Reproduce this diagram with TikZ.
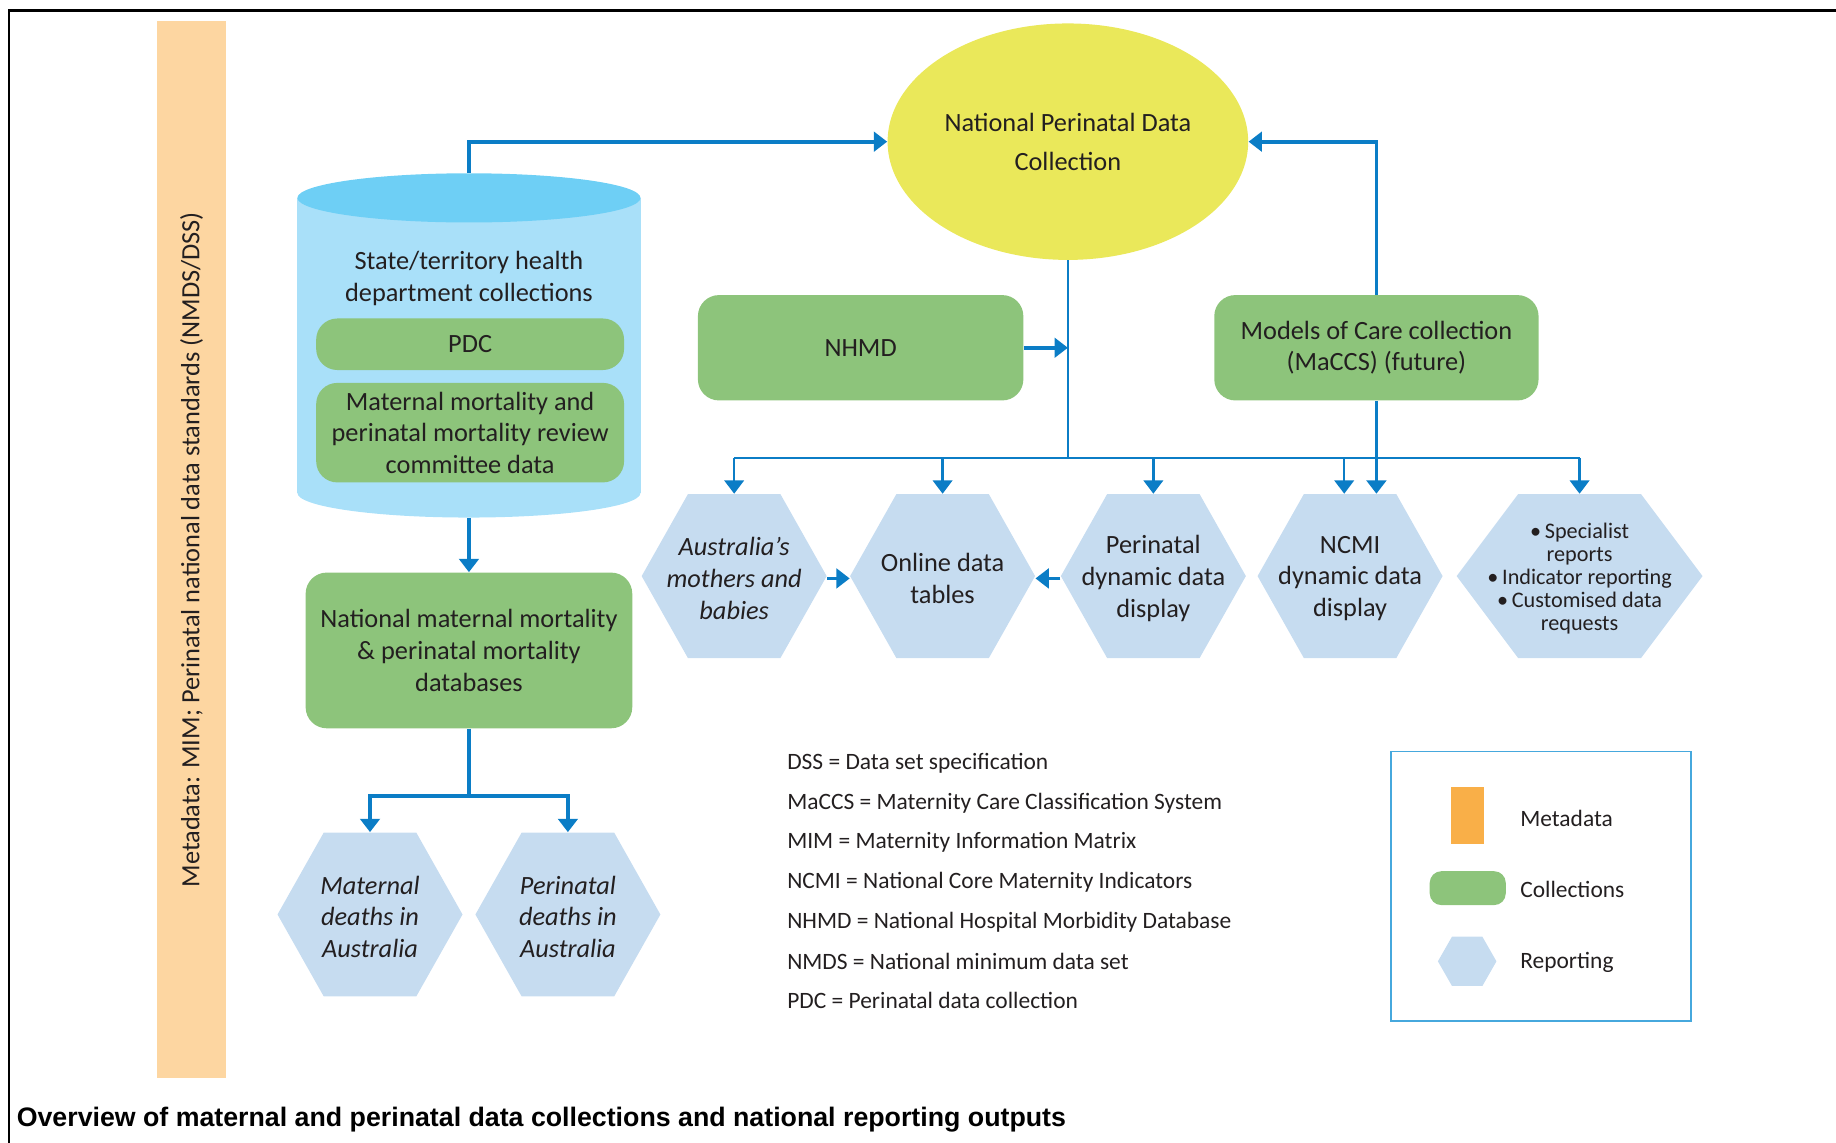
\documentclass[tikz,border=0pt]{standalone}
\usepackage{fontspec}
\setmainfont{Carlito}
\newfontfamily\figcapfont{Liberation Sans}
\usetikzlibrary{arrows.meta,shapes.geometric}

\definecolor{ink}{HTML}{231F20}
\definecolor{flowblue}{HTML}{0B7DC6}
\definecolor{collgreen}{HTML}{8DC47B}
\definecolor{hexblue}{HTML}{C6DCF0}
\definecolor{cylside}{HTML}{A9E0F9}
\definecolor{cyltop}{HTML}{6ECFF5}
\definecolor{npdcyellow}{HTML}{EAE85A}
\definecolor{metabar}{HTML}{FDD6A1}
\definecolor{metaswatch}{HTML}{F9AF48}
\definecolor{legendline}{HTML}{46A8DD}

\begin{document}
\begin{tikzpicture}[x=0.02cm, y=-0.02cm,
        >={Triangle[width=9.5pt,length=6.5pt]},
        every node/.style={inner sep=0pt, align=center, text=ink,
            font=\fontsize{12.8}{15.4}\selectfont},
        italic/.style={font=\fontsize{12.8}{15.4}\selectfont\itshape},
        small/.style={font=\fontsize{10.8}{11.1}\selectfont},
        coll/.style={fill=collgreen, rounded corners=0.36cm},
        report/.style={minimum height=2.8cm},
        flow/.style={draw=flowblue, line width=1.8pt},
        feed/.style={draw=flowblue, line width=1.1pt},
        legendtext/.style={anchor=west, font=\fontsize{11.4}{13}\selectfont}]
    \useasboundingbox (0,0) rectangle (1568,976);
    \newcommand{\hexbox}[6][]{
        \fill[hexblue] (#3-#5,#4) -- (#3-#5/2,#4-70) -- (#3+#5/2,#4-70)
            -- (#3+#5,#4) -- (#3+#5/2,#4+70) -- (#3-#5/2,#4+70) -- cycle;
        \node[report, #1, minimum width=#5*0.04cm] (#2) at (#3,#4+2) {#6};
    }

    % frame and metadata bar
    \draw[line width=1.1pt] (8,976) -- (8,9) -- (1568,9);
    \node[fill=metabar, rotate=90, minimum width=18.06cm, minimum height=1.18cm] (meta)
        at (163.5,469.5) {Metadata: MIM; Perinatal national data standards (NMDS/DSS)};

    % state/territory cylinder
    \fill[cylside] (254,169) rectangle (547,421);
    \fill[cylside] (400.5,421) ellipse [x radius=146.5, y radius=21];
    \fill[cyltop] (400.5,169) ellipse [x radius=146.5, y radius=21];
    \node[minimum width=5.86cm, minimum height=5.88cm] (cyl) at (400.5,295) {};
    \node (cyltext) at (400.5,238) {State/territory health\\department collections};
    \node[coll, minimum width=5.26cm, minimum height=0.88cm] (pdc) at (401.5,294) {PDC};
    \node[coll, minimum width=5.26cm, minimum height=1.7cm] (mmr) at (401.5,369.5)
        {Maternal mortality and\\perinatal mortality review\\committee data};

    % collections
    \node[ellipse, fill=npdcyellow, minimum width=6.16cm, minimum height=4.04cm,
        font=\fontsize{12.8}{18.8}\selectfont] (npdc) at (912,121) {National Perinatal Data\\Collection};
    \node[coll, minimum width=5.56cm, minimum height=1.8cm] (nhmd) at (735,297) {NHMD};
    \node[coll, minimum width=5.54cm, minimum height=1.8cm] (maccs) at (1175.5,297)
        {Models of Care collection\\(MaCCS) (future)};
    \node[coll, minimum width=5.58cm, minimum height=2.66cm] (nmm) at (400.5,555.5)
        {National maternal mortality\\\& perinatal mortality\\databases};

    % reporting
    \hexbox[italic]{amb}{627}{492}{79}{Australia's\\mothers and\\babies}
    \hexbox{odt}{805}{492}{79}{Online data\\tables}
    \hexbox{pdd}{985}{492}{79}{Perinatal\\dynamic data\\display}
    \hexbox{ncmi}{1153}{492}{79}{NCMI\\dynamic data\\display}
    \hexbox[small]{other}{1349}{492}{105}{\textbullet\,Specialist\\reports\\\textbullet\,Indicator reporting\\\textbullet\,Customised data\\requests}
    \hexbox[italic]{mda}{316}{781}{79}{Maternal\\deaths in\\Australia}
    \hexbox[italic]{pda}{485}{781}{79}{Perinatal\\deaths in\\Australia}

    % connectors
    \coordinate (bus) at (912,391);
    \coordinate (split) at (400.5,680);
    \coordinate (ncmiin) at ([xshift=-0.1cm,yshift=0.04cm]ncmi.north);
    \draw[flow,->] (cyl.north) |- (npdc.west);
    \draw[flow,->] (maccs.north) |- (npdc.east);
    \draw[feed] (npdc.south) -- (bus);
    \draw[feed] (amb.north |- bus) -- (other.north |- bus);
    \foreach \r in {amb,odt,pdd,other}
        \draw[feed,->] (\r.north |- bus) -- ([yshift=0.04cm]\r.north);
    \draw[feed,->] (ncmiin |- bus) -- (ncmiin);
    \draw[flow,->] (maccs.south) -- (maccs.south |- ncmiin);
    \draw[flow,->] (nhmd.east) -- (nhmd.east -| bus);
    \draw[flow,->] (amb.east) -- (odt.west);
    \draw[flow,->] (pdd.west) -- (odt.east);
    \draw[flow,->] (cyl.south) -- (nmm.north);
    \draw[flow] (nmm.south) -- (split);
    \draw[flow,->] (split) -| ([yshift=0.04cm]mda.north);
    \draw[flow,->] (split) -| ([yshift=0.04cm]pda.north);

    % abbreviations
    \foreach \txt [count=\i] in {DSS = Data set specification,
            MaCCS = Maternity Care Classification System,
            MIM = Maternity Information Matrix,
            NCMI = National Core Maternity Indicators,
            NHMD = National Hospital Morbidity Database,
            NMDS = National minimum data set,
            PDC = Perinatal data collection}
        \node[legendtext] (abbr\i) at (672,{652+33.8*(\i-1)}) {\txt};

    % legend
    \node[draw=legendline, line width=0.7pt, minimum width=5.12cm, minimum height=4.6cm] (legend)
        at (1316,757) {};
    \node[fill=metaswatch, minimum width=0.56cm, minimum height=0.98cm] (keymeta) at (1253,696.5) {};
    \node[fill=collgreen, rounded corners=0.2cm, minimum width=1.3cm, minimum height=0.58cm] (keycoll)
        at (1253.5,758.5) {};
    \fill[hexblue] (1228,821) -- (1240,800) -- (1266,800) -- (1278,821) -- (1266,842) -- (1240,842) -- cycle;
    \node[legendtext] (lmeta) at (1298,699) {Metadata};
    \node[legendtext] (lcoll) at (1298,760) {Collections};
    \node[legendtext] (lrep) at (1298,822) {Reporting};

    % caption
    \node[anchor=west, text=black, font=\figcapfont\bfseries\fontsize{13}{15}\selectfont] (caption)
        at (14,956) {Overview of maternal and perinatal data collections and national reporting outputs};
\end{tikzpicture}
\end{document}
